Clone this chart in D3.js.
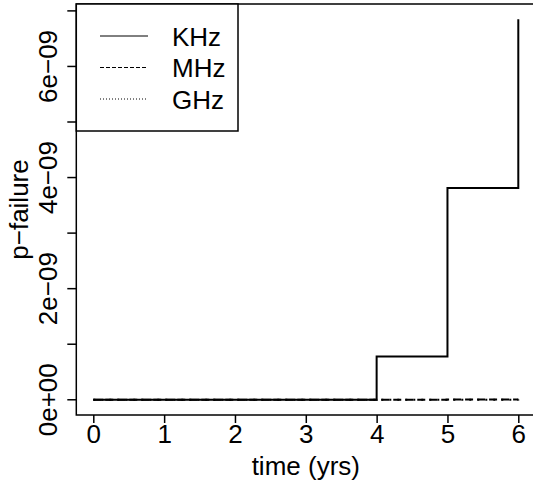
<!DOCTYPE html>
<html>
<head>
<meta charset="utf-8">
<script src="https://cdn.jsdelivr.net/npm/d3@7/dist/d3.min.js"></script>
<style>
  body { margin: 0; background: #fff; }
  svg text { font-family: "Liberation Sans", Arial, Helvetica, sans-serif; fill: #000; }
</style>
</head>
<body>
<svg id="chart" width="533" height="485"></svg>
<script>
// data
const years = [0, 1, 2, 3, 4, 5, 6];
const khz = [0, 0, 0, 0, 0.78e-9, 3.81e-9, 6.85e-9];
const mhz = [0, 0, 0, 0, 0.8e-12, 3.8e-12, 6.9e-12];
const ghz = [0, 0, 0, 0, 0, 0, 0];
const seriesNames = ["KHz", "MHz", "GHz"];
const xTicks = [0, 1, 2, 3, 4, 5, 6];
const yTicks = [0, 1e-9, 2e-9, 3e-9, 4e-9, 5e-9, 6e-9, 7e-9];
const yTickLabels = ["0e+00", "", "2e\u221209", "", "4e\u221209", "", "6e\u221209", ""];

const svg = d3.select("#chart");
const fontSize = 26;

// R style 4% axis extension
const xExt = (d3.max(years) - d3.min(years)) * 0.04;
const x = d3.scaleLinear()
  .domain([d3.min(years) - xExt, d3.max(years) + xExt])
  .range([76.3, 535.3]);

const yMax = d3.max(khz), yMin = 0;
const yExt = (yMax - yMin) * 0.04;
const y = d3.scaleLinear()
  .domain([yMin - yExt, yMax + yExt])
  .range([415, 4]);

const [x0, x1] = x.range();
const [yb, yt] = y.range();

// plot box
svg.append("rect")
  .attr("x", x0).attr("y", yt)
  .attr("width", x1 - x0).attr("height", yb - yt)
  .attr("fill", "none").attr("stroke", "#000").attr("stroke-width", 1.5);

// x axis
const xAxis = svg.append("g")
  .attr("transform", `translate(0,${yb})`)
  .call(d3.axisBottom(x).tickValues(xTicks).tickSize(8).tickPadding(2).tickFormat(d3.format("d")));
xAxis.select(".domain").remove();
xAxis.selectAll("line").attr("stroke-width", 1.5);
xAxis.selectAll("text").attr("font-size", fontSize).attr("font-family", null);

// y axis (labels rotated like R's las=0)
const yAxis = svg.append("g").attr("transform", `translate(${x0},0)`);
yAxis.selectAll("line.tick")
  .data(yTicks)
  .join("line")
  .attr("class", "tick")
  .attr("x1", 0).attr("x2", -9)
  .attr("y1", d => y(d)).attr("y2", d => y(d))
  .attr("stroke", "#000").attr("stroke-width", 1.5);
yAxis.selectAll("text")
  .data(yTicks)
  .join("text")
  .attr("transform", d => `translate(-19,${y(d)}) rotate(-90)`)
  .attr("text-anchor", "middle")
  .attr("font-size", fontSize)
  .text((d, i) => yTickLabels[i]);

// axis titles
svg.append("text")
  .attr("x", (x(0) + x(6)) / 2).attr("y", 475)
  .attr("text-anchor", "middle").attr("font-size", fontSize)
  .text("time (yrs)");
svg.append("text")
  .attr("transform", `translate(28,${(yb + yt) / 2}) rotate(-90)`)
  .attr("text-anchor", "middle").attr("font-size", fontSize)
  .text("p\u2212failure");

// step lines (R type="s")
const step = d3.line()
  .curve(d3.curveStepAfter)
  .x(d => x(d[0]))
  .y(d => y(d[1]));

const styles = [
  { data: khz, dash: null },
  { data: mhz, dash: "8,4" },
  { data: ghz, dash: "2,6" }
];

const plot = svg.append("g");
styles.slice().reverse().forEach(s => {
  plot.append("path")
    .datum(years.map((t, i) => [t, s.data[i]]))
    .attr("fill", "none")
    .attr("stroke", "#000")
    .attr("stroke-width", 2)
    .attr("stroke-dasharray", s.dash)
    .attr("d", step);
});

// legend
const legend = svg.append("g");
legend.append("rect")
  .attr("x", x0).attr("y", yt)
  .attr("width", 238 - x0).attr("height", 131 - yt)
  .attr("fill", "#fff").attr("stroke", "#000").attr("stroke-width", 1.5);

const legendDash = [null, "4,2", "1,2"];
seriesNames.forEach((name, i) => {
  const ly = 36 + i * 31.5;
  legend.append("line")
    .attr("x1", 100).attr("x2", 148)
    .attr("y1", ly).attr("y2", ly)
    .attr("stroke", "#000").attr("stroke-width", 1)
    .attr("stroke-dasharray", legendDash[i]);
  legend.append("text")
    .attr("x", 172).attr("y", ly + 9.5)
    .attr("font-size", fontSize)
    .text(name);
});
</script>
</body>
</html>
